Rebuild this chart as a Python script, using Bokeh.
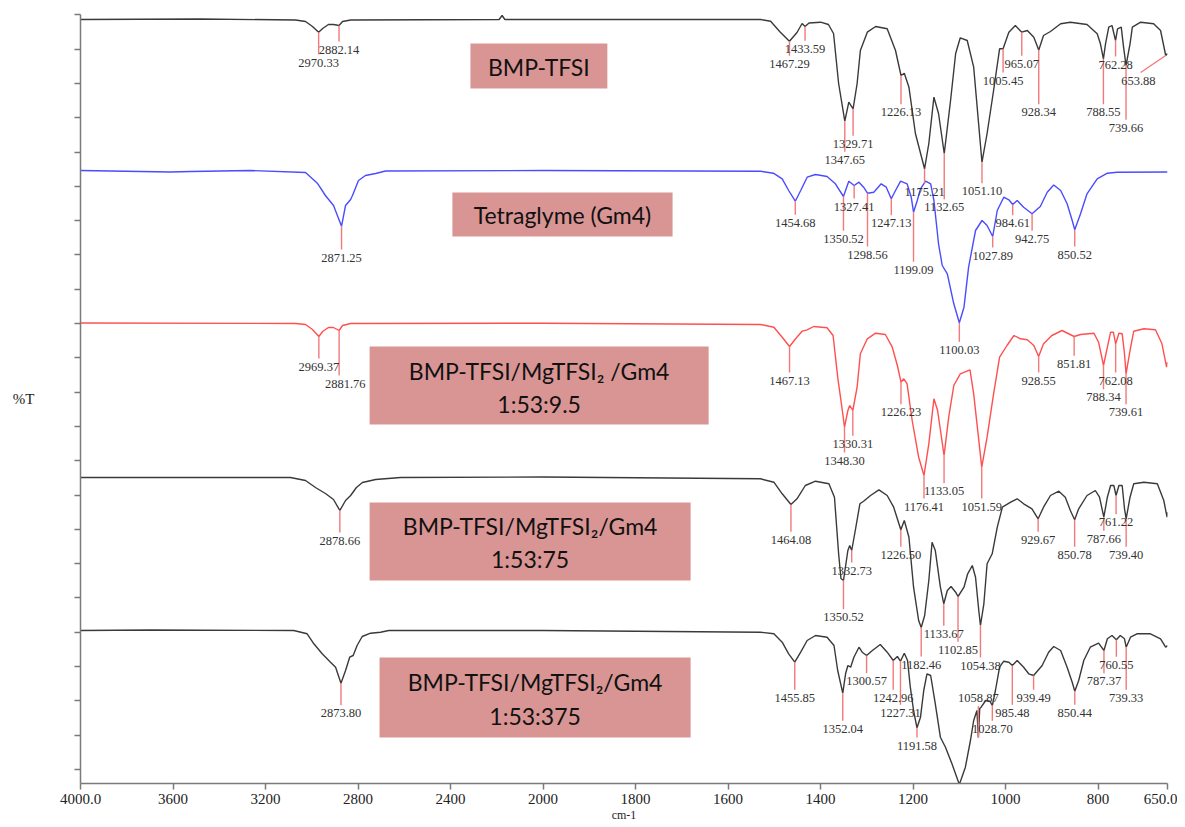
import numpy as np
from bokeh.plotting import figure
from bokeh.models import Range1d, FixedTicker
from bokeh.core.properties import value
from bokeh.embed import file_html
from bokeh.resources import INLINE

# ---------------- data ----------------
x_tick_wn = [4000, 3600, 3200, 2800, 2400, 2000, 1800, 1600, 1400, 1200, 1000, 800, 650]
x_tick_labels = ["4000.0", "3600", "3200", "2800", "2400", "2000", "1800", "1600",
                 "1400", "1200", "1000", "800", "650.0"]

# (wavenumber cm-1, %T offset units)
bmp_tfsi = [(4000,764),(3481,764.5),(3070,763.5),(3027,762),(2997,757),(2970.33,751.3),(2953,755),
    (2928,759),(2906,759),(2882.14,758),(2867,762),(2832,763.5),(2190,764),(2177,768),(2165,764),
    (2000,764),(1530,764),(1508,762.3),(1487,751.3),(1467.29,742.3),(1451,751),(1440,760),
    (1433.59,757),(1425,760.5),(1400,761.3),(1383,759),(1372,750),(1361,700),(1347.65,662.3),
    (1339,681.3),(1329.71,674.7),(1321,700),(1314,733),(1299,751.3),(1281,757),(1256,754.7),
    (1238,733),(1226.13,708),(1219,710.3),(1209,696.3),(1195,650),(1175.21,614.7),(1166,640),
    (1155,686.3),(1145,670),(1132.65,630),(1119,683),(1108,730),(1098,745.7),(1083,743),
    (1069,716.3),(1051.10,621.3),(1040,650),(1026,693),(1013,734.7),(1005.45,734.7),(993,751.3),
    (979,758),(965.07,751.3),(953,753),(939,746.3),(928.34,733.5),(918,748),(903,752),(881,759.7),
    (860,761.3),(824,759),(802,749.7),(795,739.7),(788.55,724.7),(784,739.7),(777,756.3),(770,758),
    (762.28,743),(758,754.7),(750,756.3),(745,736.3),(739.66,718),(731,739.7),(726,756.3),
    (708,761.3),(680,759.7),(665,753),(653.88,728),(650,730)]

tetraglyme = [(4000,613),(3611,611.5),(3524,612),(3265,613),(3027,611),(2976,600.3),(2941,588),
    (2906,578),(2871.25,557.3),(2854,578),(2832,584),(2824,588),(2798,603),(2768,608),(2724,610),
    (2681,612.5),(2000,613),(1530,612.3),(1502,610.3),(1483,604.7),(1469,593),(1454.68,582.3),
    (1443,593),(1429,606.3),(1411,609),(1386,607),(1368,599.7),(1350.52,587),(1339,602.3),
    (1327.41,598),(1317,601.3),(1307,596.3),(1298.56,590.3),(1285,591.3),(1269,599.7),(1258,596.3),
    (1247.13,584.7),(1238,593),(1227,602.3),(1213,599.7),(1204,586.3),(1199.09,571.3),(1191,583),
    (1184,594.7),(1173,602.3),(1162,599.7),(1155,583),(1145,539.7),(1137,518),(1126,509.7),
    (1112,479.7),(1100.03,460.7),(1090,476.3),(1080,516.3),(1065,553),(1051,563),(1040,558),
    (1027.89,547),(1018,573),(1004,586.3),(993,583.7),(984.61,579),(975,583),(961,576.3),
    (942.75,569.7),(925,577),(910,591.3),(896,598.5),(881,593),(867,579.7),(856,563),(850.52,553.7),
    (838,569.7),(824,589.7),(802,604.7),(780,610.3),(759,611.3),(650,611.5)]

mix_9_5 = [(4000,460.5),(3070,460),(3027,459),(2997,454),(2969.37,447),(2953,452),(2928,456),
    (2906,456),(2881.76,453),(2867,458),(2832,460),(2000,460.3),(1530,459),(1501,456.3),(1483,446.3),
    (1467.13,437),(1454,444.7),(1440,452.3),(1429,453.7),(1415,457),(1386,455.7),(1373,448),
    (1363,406.3),(1353,373),(1348.30,356.3),(1341,373),(1337,378),(1330.31,373),(1321,396.3),
    (1314,429.7),(1299,444.7),(1281,450.3),(1260,449),(1245,436.3),(1234,418),(1226.23,401.3),
    (1220,404.7),(1213,399.7),(1202,363),(1188,326.3),(1176.41,308),(1166,339.7),(1155,384.7),
    (1147,373),(1133.05,328),(1123,366.3),(1112,398),(1098,409.7),(1077,413.7),(1069,389.7),
    (1051.59,316.3),(1040,346.3),(1026,389.7),(1013,426.3),(997,438),(982,448),(968,444.7),
    (953,443.7),(939,438),(928.55,427),(918,439.7),(900,448),(878,453),(851.81,447),(838,449),
    (809,450.3),(799,441.3),(788.34,418),(780,436.3),(773,451.3),(767,451.3),(762.08,439.7),
    (755,450.3),(748,449.7),(743,430),(739.61,409.7),(731,433),(723,452.3),(701,454.7),(676,453.7),
    (662,439.7),(652,416.3),(650,421.3)]

mix_75 = [(4000,306),(3092,306),(3027,303),(2984,296),(2941,290),(2906,284),(2878.66,273),(2854,283),
    (2832,288),(2807,296),(2781,301),(2724,304),(2616,306),(2000,306.5),(1530,304.7),(1501,301.3),
    (1483,289.7),(1464.08,279),(1451,284.7),(1433,298),(1411,302.3),(1382,299.7),(1370,286.3),
    (1361,229.7),(1356,205),(1350.52,203),(1341,233),(1337,238),(1332.73,233),(1325,253),
    (1315,279.7),(1307,282.3),(1292,288),(1274,293.7),(1256,288),(1242,276.3),(1226.50,253.7),
    (1219,263),(1209,246.3),(1199,196.3),(1188,163),(1182.46,156),(1175,168),(1166,203),
    (1159,241.3),(1152,233),(1141,196.3),(1133.67,179.7),(1126,193),(1118,197),(1108,191.3),
    (1102.85,187),(1090,196.3),(1082,209.7),(1072,218),(1065,206.3),(1058,173),(1054.38,158),
    (1047,179.7),(1040,219.7),(1029,229.7),(1018,256.3),(1007,276.3),(989,281.3),(975,284.7),
    (961,279.7),(943,274.7),(929.67,264.7),(918,276.3),(903,288),(885,292.3),(871,286.3),(860,273),
    (850.78,263.7),(842,274.7),(824,288),(806,293),(797,286.3),(787.66,266.3),(780,286.3),(773,298),
    (766,298),(761.22,288),(755,298),(748,298),(743,275),(739.40,264.7),(731,286.3),(723,299.7),
    (701,301.3),(672,299.7),(658,283),(651,266.3),(650,271.3)]

mix_375 = [(4000,153),(3697,153.5),(3078,153),(3020,149.7),(2991,139.7),(2955,129.7),(2919,121.3),
    (2897,116.3),(2873.80,100.3),(2854,113),(2836,126.3),(2821,128),(2804,138),(2782,147),
    (2746,150.3),(2703,151.3),(2667,153),(2000,153),(1530,151.3),(1501,149.7),(1483,141.3),
    (1469,129.7),(1455.85,121.3),(1443,131.3),(1429,143),(1411,148),(1386,146.3),(1371,138),
    (1363,113),(1352.04,90.3),(1346,109.7),(1341,118),(1335,116.3),(1328,126.3),(1317,136.3),
    (1310,131.3),(1300.57,128),(1288,133),(1271,139),(1256,131.3),(1242.96,123),(1234,127),
    (1227.31,122.3),(1219,130.3),(1212,123),(1206,96.3),(1199,73),(1191.58,55.7),(1184,66.3),
    (1177,93),(1170,109.7),(1162,108),(1152,79.7),(1141,46.3),(1130,36.3),(1116,19.7),(1100,-1),
    (1087,16.3),(1076,43),(1069,63),(1062,73),(1058.87,46),(1056,75),(1053,76.3),(1043,83),
    (1034,82.3),(1028.70,78),(1022,93),(1013,116.3),(1004,122.3),(993,121.3),(985.48,118),(975,123),
    (961,116.3),(950,109.7),(939.49,108),(921,118),(907,131.3),(896,137),(881,133),(867,116.3),
    (856,101.3),(850.44,92.3),(842,103),(831,123),(817,136.3),(799,140.3),(787.37,133),(780,144.7),
    (770,148),(760.55,143.7),(752,148),(743,144.7),(739.33,136.3),(730,146.3),(716,149.7),
    (687,149.7),(665,144.7),(654,136.3),(650,138)]

# peak labels (wavenumbers)
bmp_peaks = [2970.33, 2882.14, 1467.29, 1433.59, 1347.65, 1329.71, 1226.13, 1175.21, 1132.65,
             1051.10, 1005.45, 965.07, 928.34, 788.55, 762.28, 739.66, 653.88]
gm4_peaks = [2871.25, 1454.68, 1350.52, 1327.41, 1298.56, 1247.13, 1199.09, 1100.03, 1027.89,
             984.61, 942.75, 850.52]
mix1_peaks = [2969.37, 2881.76, 1467.13, 1348.30, 1330.31, 1226.23, 1176.41, 1133.05, 1051.59,
              928.55, 851.81, 788.34, 762.08, 739.61]
mix2_peaks = [2878.66, 1464.08, 1350.52, 1332.73, 1226.50, 1182.46, 1133.67, 1102.85, 1054.38,
              929.67, 850.78, 787.66, 761.22, 739.40]
mix3_peaks = [2873.80, 1455.85, 1352.04, 1300.57, 1242.96, 1227.31, 1191.58, 1058.87, 1028.70,
              985.48, 939.49, 850.44, 787.37, 760.55, 739.33]

# ---------------- layout (label positions) ----------------
bmp_label_y = [721, 734, 719.7, 734.7, 623.7, 639.7, 671.3, 592, 576.3, 592.3, 703, 719.7, 671.3,
               671.3, 719, 655.7, 703]
gm4_label_y = [526, 560.7, 544.7, 577, 529, 560.3, 513.7, 433.7, 528, 560.3, 544.7, 529]
mix1_label_y = [417, 400, 403, 323, 339.7, 371.3, 277, 292.3, 277, 403, 419.7, 386.3, 403, 371.3]
mix2_label_y = [243, 243.7, 166.3, 213, 228.7, 119, 149.7, 133.7, 118, 243.7, 228.7, 244.7, 261.3,
                228.7]
mix3_label_y = [70.3, 85.7, 54.7, 102.3, 85.7, 70.7, 38, 85.3, 54.7, 70.7, 85.7, 70.7, 102.3,
                118.7, 85.7]
label_x_override = {653.88: 713, 2881.76: 2855}
marker_x_override = {653.88: 708}

boxes = [  # wn left, wn right, y bottom, y top, text lines, line y
    (2314, 1861, 695, 740, ["BMP-TFSI"], [717]),
    (2392, 1720, 547, 591, ["Tetraglyme (Gm4)"], [569]),
    (2750, 1642, 359, 437, ["BMP-TFSI/MgTFSI\u2082 /Gm4", "1:53:9.5"], [413, 380]),
    (2750, 1681, 203, 281, ["BMP-TFSI/MgTFSI\u2082/Gm4", "1:53:75"], [258, 225]),
    (2707, 1681, 46, 126, ["BMP-TFSI/MgTFSI\u2082/Gm4", "1:53:375"], [101.5, 68]),
]


def xf(w):
    w = np.asarray(w, dtype=float)
    return np.where(w > 2000, 2000 + (w - 2000) / 2.0, w)


p = figure(width=1177, height=826, x_range=Range1d(3000, 650), y_range=Range1d(0, 769),
           output_backend="svg", toolbar_location=None,
           min_border_left=80, min_border_right=10, min_border_top=14, min_border_bottom=43)
p.xgrid.visible = False
p.ygrid.visible = False
p.outline_line_color = None
p.background_fill_color = "white"
p.border_fill_color = "white"

tick_u = [int(v) for v in xf(x_tick_wn)]
p.xaxis.ticker = FixedTicker(ticks=tick_u)
p.xaxis.major_label_overrides = {u: s for u, s in zip(tick_u, x_tick_labels)}
p.xaxis.minor_tick_line_color = None
p.xaxis.major_tick_out = 6
p.xaxis.major_tick_in = 0
p.xaxis.axis_line_color = "#7a7a7a"
p.xaxis.axis_line_width = 1.5
p.xaxis.major_tick_line_color = "#7a7a7a"
p.xaxis.major_tick_line_width = 1.5
p.xaxis.major_label_text_font = "Liberation Serif"
p.xaxis.major_label_text_font_size = "15px"
p.xaxis.major_label_text_color = "#222222"
p.xaxis.major_label_standoff = 4
p.xaxis.axis_label = "cm-1"
p.xaxis.axis_label_text_font = "Liberation Serif"
p.xaxis.axis_label_text_font_size = "12px"
p.xaxis.axis_label_text_font_style = "normal"
p.xaxis.axis_label_text_color = "#222222"
p.xaxis.axis_label_standoff = 1

p.yaxis.ticker = FixedTicker(ticks=[768.7 - 34.3 * k for k in range(23)])
p.yaxis.major_label_text_color = None
p.yaxis.major_label_text_font_size = "1px"
p.yaxis.minor_tick_line_color = None
p.yaxis.major_tick_out = 6
p.yaxis.major_tick_in = 0
p.yaxis.axis_line_color = "#7a7a7a"
p.yaxis.axis_line_width = 1.5
p.yaxis.major_tick_line_color = "#7a7a7a"
p.yaxis.major_tick_line_width = 1.5
p.yaxis.axis_label = "%T"
p.yaxis.axis_label_orientation = "horizontal"
p.yaxis.axis_label_text_font = "Liberation Serif"
p.yaxis.axis_label_text_font_size = "15px"
p.yaxis.axis_label_text_font_style = "normal"
p.yaxis.axis_label_text_color = "#222222"
p.yaxis.axis_label_standoff = 40

series = [
    (bmp_tfsi, "#3a3a3a", bmp_peaks, bmp_label_y),
    (tetraglyme, "#4b4bff", gm4_peaks, gm4_label_y),
    (mix_9_5, "#ff4f4f", mix1_peaks, mix1_label_y),
    (mix_75, "#3a3a3a", mix2_peaks, mix2_label_y),
    (mix_375, "#3a3a3a", mix3_peaks, mix3_label_y),
]

mx0, my0, mx1, my1 = [], [], [], []
lx, ly, lt = [], [], []
for pts, col, peaks, lab_y in series:
    wn = np.array([a for a, b in pts], dtype=float)
    t = np.array([b for a, b in pts], dtype=float)
    p.line(xf(wn), t, line_color=col, line_width=1.4)
    for pk, yl in zip(peaks, lab_y):
        py = float(np.interp(pk, wn[::-1], t[::-1]))
        xl = label_x_override.get(pk, pk)
        xm = marker_x_override.get(pk, pk)
        yend = yl + 8 if yl < py else yl - 8
        mx0.append(float(xf(pk))); my0.append(py)
        mx1.append(float(xf(xm))); my1.append(yend)
        lx.append(float(xf(xl))); ly.append(yl); lt.append(f"{pk:.2f}")

p.segment(x0=mx0, y0=my0, x1=mx1, y1=my1, line_color="#f27a7a", line_width=1.4)
p.text(x=lx, y=ly, text=lt, text_font=value("Liberation Serif"), text_font_size="12.5px",
       text_color="#333333", text_align="center", text_baseline="middle")

for l, r, b, tp, lines, lys in boxes:
    p.quad(left=[float(xf(l))], right=[float(xf(r))], bottom=[b], top=[tp],
           fill_color="#d99594", line_color=None)
    cx = (float(xf(l)) + float(xf(r))) / 2
    p.text(x=[cx] * len(lines), y=lys, text=lines, text_font=value("Lato"),
           text_font_size="23px", text_color="#111111", text_align="center",
           text_baseline="middle")

open("out.html", "w").write(file_html(p, INLINE))
